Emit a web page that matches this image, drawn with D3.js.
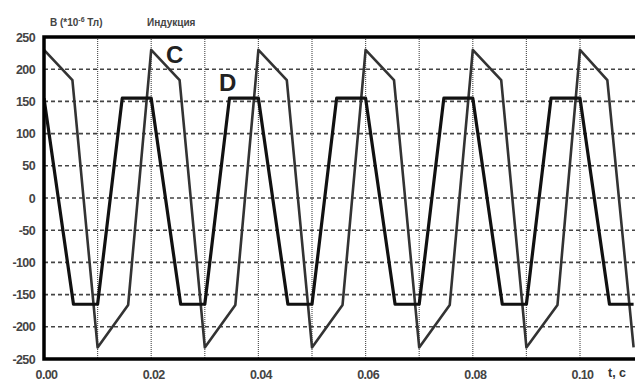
<!DOCTYPE html>
<html>
<head>
<meta charset="utf-8">
<script src="https://cdn.jsdelivr.net/npm/d3@7"></script>
<style>
  html, body { margin: 0; padding: 0; background: #fff; }
  svg { display: block; font-family: "Liberation Sans", Arial, sans-serif; }
</style>
</head>
<body>
<svg id="chart" width="635" height="382"></svg>
<script>
// Curve C (thin line): time in s, induction in 1e-6 T
const tC = [0, 0.0053, 0.01, 0.0157, 0.02, 0.0253, 0.03, 0.0357, 0.04, 0.0453, 0.05, 0.0557,
  0.06, 0.0653, 0.07, 0.0757, 0.08, 0.0853, 0.09, 0.0958, 0.10, 0.1051, 0.11];
const bC = [230, 183, -232, -166, 230, 183, -232, -166, 230, 183, -232, -166,
  230, 183, -232, -166, 230, 183, -232, -166, 230, 183, -232];

// Curve D (thick trapezoid)
const tD = [0, 0.0055, 0.01, 0.0146, 0.02, 0.0255, 0.03, 0.0346, 0.04, 0.0455, 0.05, 0.0546,
  0.06, 0.0655, 0.07, 0.0746, 0.08, 0.0855, 0.09, 0.0946, 0.10, 0.1055, 0.11];
const bD = [155, -165, -165, 155, 155, -165, -165, 155, 155, -165, -165, 155,
  155, -165, -165, 155, 155, -165, -165, 155, 155, -165, -165];

// Tick values
const xTicks = [0, 0.02, 0.04, 0.06, 0.08, 0.10];
const xGrid = [0.01, 0.02, 0.03, 0.04, 0.05, 0.06, 0.07, 0.08, 0.09, 0.10];
const yTicks = [250, 200, 150, 100, 50, 0, -50, -100, -150, -200, -250];
const yGrid = [200, 150, 100, 50, 0, -50, -100, -150, -200];

const LEFT = 44, RIGHT = 635, TOP = 37, BOTTOM = 359;

const svg = d3.select('#chart');

const x = d3.scaleLinear().domain([0, 0.11]).range([LEFT, LEFT + 0.11 * 5360]);
const y = d3.scaleLinear().domain([-250, 250]).range([BOTTOM, TOP]);

svg.append('clipPath').attr('id', 'plot-clip')
  .append('rect')
  .attr('x', LEFT).attr('y', TOP)
  .attr('width', RIGHT - LEFT).attr('height', BOTTOM - TOP);

// Grid: dashed horizontals, dotted verticals
svg.append('g').selectAll('line')
  .data(yGrid)
  .enter().append('line')
  .attr('x1', LEFT).attr('x2', RIGHT)
  .attr('y1', d => y(d)).attr('y2', d => y(d))
  .attr('stroke', '#444')
  .attr('stroke-width', 1.6)
  .attr('stroke-dasharray', '4,3');

svg.append('g').selectAll('line')
  .data(xGrid)
  .enter().append('line')
  .attr('x1', d => x(d)).attr('x2', d => x(d))
  .attr('y1', TOP).attr('y2', BOTTOM)
  .attr('stroke', '#555')
  .attr('stroke-width', 1.2)
  .attr('stroke-dasharray', '1,1');

// Curves
const line = d3.line().x(d => x(d[0])).y(d => y(d[1]));
const plot = svg.append('g').attr('clip-path', 'url(#plot-clip)');

plot.append('path')
  .datum(tC.map((t, i) => [t, bC[i]]))
  .attr('d', line)
  .attr('fill', 'none')
  .attr('stroke', '#333')
  .attr('stroke-width', 2.6)
  .attr('stroke-linejoin', 'round');

plot.append('path')
  .datum(tD.map((t, i) => [t, bD[i]]))
  .attr('d', line)
  .attr('fill', 'none')
  .attr('stroke', '#111')
  .attr('stroke-width', 3.2)
  .attr('stroke-linejoin', 'round');

// Frame (left, top, bottom)
svg.append('path')
  .attr('d', `M${RIGHT},${TOP} H${LEFT} V${BOTTOM} H${RIGHT}`)
  .attr('fill', 'none')
  .attr('stroke', '#000')
  .attr('stroke-width', 3.5);

// Axes
const yAxis = svg.append('g')
  .attr('transform', `translate(${LEFT},0)`)
  .call(d3.axisLeft(y).tickValues(yTicks).tickSize(0).tickPadding(9).tickFormat(d => String(d)));
yAxis.select('.domain').remove();

const xAxis = svg.append('g')
  .attr('transform', `translate(0,${BOTTOM})`)
  .call(d3.axisBottom(x).tickValues(xTicks).tickSize(0).tickPadding(11).tickFormat(d3.format('.2f')));
xAxis.select('.domain').remove();

svg.selectAll('.tick text')
  .attr('font-family', '"Liberation Sans", Arial, sans-serif')
  .attr('font-size', 12.5)
  .attr('font-weight', 'bold')
  .attr('fill', '#444')
  .style('letter-spacing', '-0.6px');
xAxis.selectAll('.tick text').attr('dx', 2);

// Titles
const title = svg.append('text')
  .attr('x', 50).attr('y', 26)
  .attr('font-size', 10).attr('font-weight', 'bold').attr('fill', '#444');
title.append('tspan').text('B (*10');
title.append('tspan').attr('font-size', 7).attr('dy', -4).text('-6');
title.append('tspan').attr('dy', 4).text(' Тл)');

svg.append('text')
  .attr('x', 147).attr('y', 26)
  .attr('font-size', 10).attr('font-weight', 'bold').attr('fill', '#444')
  .text('Индукция');

svg.append('text')
  .attr('x', 608).attr('y', 377)
  .attr('font-size', 12.5).attr('font-weight', 'bold').attr('fill', '#333')
  .text('t, с');

// Curve labels
svg.append('text')
  .attr('x', 166).attr('y', 63)
  .attr('font-size', 24).attr('font-weight', 'bold').attr('fill', '#222')
  .text('C');

svg.append('text')
  .attr('x', 219).attr('y', 91)
  .attr('font-size', 24).attr('font-weight', 'bold').attr('fill', '#222')
  .text('D');
</script>
</body>
</html>
